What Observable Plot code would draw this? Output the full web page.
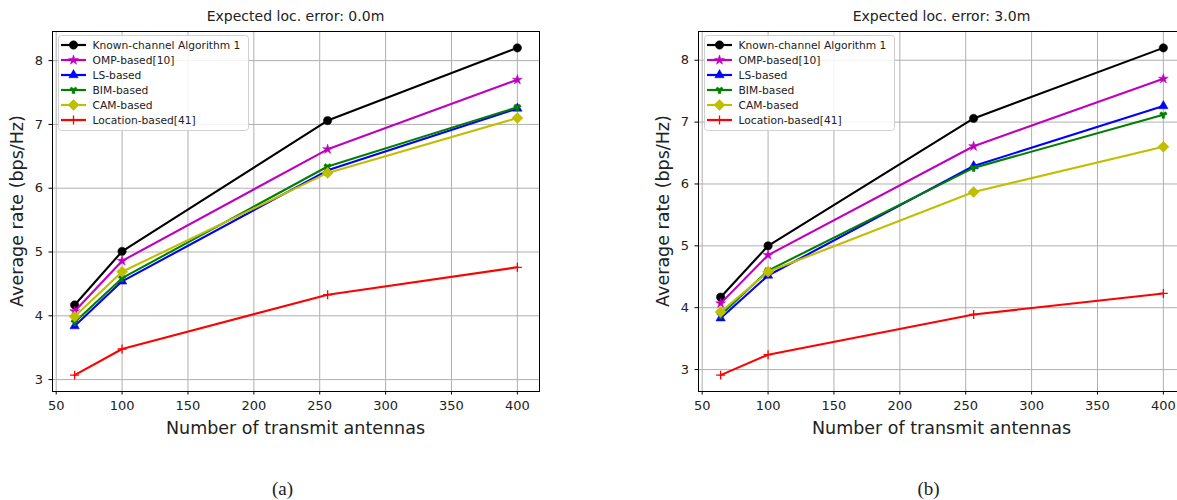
<!DOCTYPE html>
<html>
<head>
<meta charset="utf-8">
<script src="https://cdn.jsdelivr.net/npm/d3@7"></script>
<script src="https://cdn.jsdelivr.net/npm/@observablehq/plot@0.6"></script>
<style>
  html, body { margin: 0; padding: 0; background: #fff; }
  #root { position: relative; width: 1177px; height: 500px; overflow: hidden; background: #fff; font-family: "DejaVu Sans", sans-serif; color: #222; }
  .panel { position: absolute; top: 0; width: 560px; height: 500px; }
  .panel svg { position: absolute; left: 0; top: 0; }
  .title { position: absolute; top: 7px; font-size: 14px; line-height: 18px; white-space: nowrap; transform: translateX(-50%); }
  .xlabel { position: absolute; top: 417px; font-size: 17.5px; line-height: 22px; white-space: nowrap; transform: translateX(-50%); }
  .ylabel { position: absolute; font-size: 17.5px; line-height: 22px; white-space: nowrap; transform: translate(-50%, -50%) rotate(-90deg); }
  .caption { position: absolute; top: 478px; font-family: "Liberation Serif", "DejaVu Serif", serif; font-size: 19px; line-height: 22px; transform: translateX(-50%); }
</style>
</head>
<body>
<div id="root"></div>
<script>
// ---- data ----
const antennas = [64, 100, 256, 400];
const seriesNames = [
  "Known-channel Algorithm 1",
  "OMP-based[10]",
  "LS-based",
  "BIM-based",
  "CAM-based",
  "Location-based[41]"
];
// Panel (a): expected localization error 0.0 m
const knownA = [4.17, 5.01, 7.06, 8.20];
const ompA   = [4.07, 4.86, 6.61, 7.70];
const lsA    = [3.84, 4.54, 6.28, 7.25];
const bimA   = [3.90, 4.59, 6.34, 7.27];
const camA   = [3.99, 4.69, 6.24, 7.10];
const locA   = [3.07, 3.48, 4.33, 4.76];
// Panel (b): expected localization error 3.0 m
const knownB = [4.17, 5.00, 7.06, 8.20];
const ompB   = [4.07, 4.85, 6.61, 7.70];
const lsB    = [3.83, 4.52, 6.29, 7.26];
const bimB   = [3.88, 4.60, 6.26, 7.12];
const camB   = [3.93, 4.58, 5.87, 6.60];
const locB   = [2.91, 3.24, 3.89, 4.23];

const xTicks = [50, 100, 150, 200, 250, 300, 350, 400];
const yTicks = [3, 4, 5, 6, 7, 8];
const titles = ["Expected loc. error: 0.0m", "Expected loc. error: 3.0m"];
const captions = ["(a)", "(b)"];
const xLabel = "Number of transmit antennas";
const yLabel = "Average rate (bps/Hz)";

// ---- styles ----
const colors  = ["#000000", "#bf00bf", "#0000ff", "#008000", "#bfbf00", "#ff0000"];
const symbols = ["circle", "star", "triangle", "wye", "diamond2", "plus"];
const d3syms  = [d3.symbolCircle, d3.symbolStar, d3.symbolTriangle, d3.symbolWye, d3.symbolDiamond2, d3.symbolPlus];
const radii   = [4.2, 3.1, 3.5, 2.9, 5.0, 3.0];
const strokeOnly = [false, false, false, false, false, true];

function pad(ext) {
  const span = ext[1] - ext[0];
  return [ext[0] - 0.05 * span, ext[1] + 0.05 * span];
}

function makePanel(seriesValues, idx, leftPx) {
  const rows = seriesValues.map((vals, i) => antennas.map((x, j) => ({x, y: vals[j], s: i})));
  const all = rows.flat();
  const xDomain = pad(d3.extent(antennas));
  const yDomain = pad(d3.extent(all, d => d.y));

  const marks = [
    Plot.gridX(xTicks, {stroke: "#b0b0b0", strokeOpacity: 1, strokeWidth: 1}),
    Plot.gridY(yTicks, {stroke: "#b0b0b0", strokeOpacity: 1, strokeWidth: 1}),
    Plot.axisX({ticks: xTicks, tickSize: 3.5, tickPadding: 6, fontSize: 13, label: null, stroke: "#000", tickFormat: d => String(d)}),
    Plot.axisY({ticks: yTicks, tickSize: 3.5, tickPadding: 6, fontSize: 13, label: null, stroke: "#000", tickFormat: d => String(d)})
  ];
  rows.forEach((r, i) => {
    marks.push(Plot.line(r, {x: "x", y: "y", stroke: colors[i], strokeWidth: 2.1}));
    marks.push(Plot.dot(r, strokeOnly[i]
      ? {x: "x", y: "y", symbol: () => symbols[i], r: radii[i], stroke: colors[i], strokeWidth: 1.3, fill: "none"}
      : {x: "x", y: "y", symbol: () => symbols[i], r: radii[i], fill: colors[i], stroke: colors[i], strokeWidth: 0.5}));
  });
  marks.push(Plot.frame({stroke: "#000", strokeWidth: 1}));

  const svg = Plot.plot({
    width: 560, height: 500,
    marginLeft: 52, marginRight: 21, marginTop: 31, marginBottom: 109,
    x: {domain: xDomain},
    y: {domain: yDomain},
    symbol: {type: "identity"},
    style: {fontFamily: "DejaVu Sans, sans-serif", fontSize: "13px", color: "#222", background: "transparent", overflow: "visible"},
    marks
  });

  // legend
  const g = d3.select(svg).append("g").attr("class", "legend").attr("text-anchor", "start");
  g.append("rect").attr("x", 58.5).attr("y", 35.5).attr("width", 190).attr("height", 95)
    .attr("rx", 3).attr("fill", "#fff").attr("fill-opacity", 0.85).attr("stroke", "#d0d0d0");
  seriesNames.forEach((name, i) => {
    const cy = 45 + i * 15;
    g.append("line").attr("x1", 61).attr("x2", 86).attr("y1", cy).attr("y2", cy)
      .attr("stroke", colors[i]).attr("stroke-width", 2.2);
    const p = g.append("path")
      .attr("d", d3.symbol(d3syms[i], Math.PI * radii[i] * radii[i])())
      .attr("transform", `translate(73.5,${cy})`);
    if (strokeOnly[i]) p.attr("fill", "none").attr("stroke", colors[i]).attr("stroke-width", 1.3);
    else p.attr("fill", colors[i]).attr("stroke", colors[i]).attr("stroke-width", 0.5);
    g.append("text").attr("x", 92.5).attr("y", cy).attr("dy", "0.35em")
      .attr("text-anchor", "start")
      .attr("font-size", "10.7px").attr("fill", "#222").text(name);
  });

  const div = document.createElement("div");
  div.className = "panel";
  div.style.left = leftPx + "px";
  div.appendChild(svg);

  const cx = 52 + (560 - 52 - 21) / 2;
  const t = document.createElement("div");
  t.className = "title"; t.style.left = cx + "px"; t.textContent = titles[idx];
  div.appendChild(t);
  const xl = document.createElement("div");
  xl.className = "xlabel"; xl.style.left = cx + "px"; xl.textContent = xLabel;
  div.appendChild(xl);
  const yl = document.createElement("div");
  yl.className = "ylabel"; yl.style.left = "17px"; yl.style.top = (31 + 360 / 2) + "px"; yl.textContent = yLabel;
  div.appendChild(yl);
  const c = document.createElement("div");
  c.className = "caption"; c.style.left = (cx - 13) + "px"; c.textContent = captions[idx];
  div.appendChild(c);
  return div;
}

const root = document.getElementById("root");
root.appendChild(makePanel([knownA, ompA, lsA, bimA, camA, locA], 0, 0));
root.appendChild(makePanel([knownB, ompB, lsB, bimB, camB, locB], 1, 646));
</script>
</body>
</html>
